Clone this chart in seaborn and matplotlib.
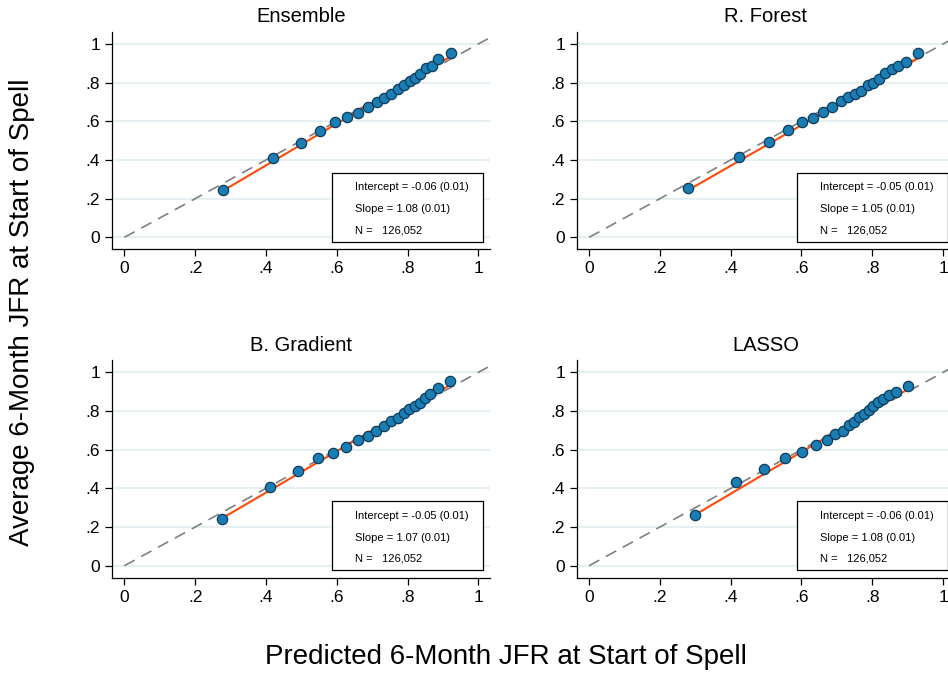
import numpy as np
import pandas as pd
import matplotlib
matplotlib.use("Agg")
import matplotlib.pyplot as plt
from matplotlib.patches import Rectangle
import seaborn as sns

# Binned calibration points (20 bins) for each prediction model
models = ["Ensemble", "R. Forest", "B. Gradient", "LASSO"]

ens_pred = [0.278, 0.419, 0.499, 0.554, 0.594, 0.629, 0.661, 0.688, 0.713, 0.733,
            0.754, 0.773, 0.790, 0.806, 0.821, 0.836, 0.852, 0.869, 0.887, 0.923]
ens_obs = [0.246, 0.409, 0.486, 0.548, 0.594, 0.620, 0.641, 0.672, 0.698, 0.722,
           0.741, 0.768, 0.790, 0.811, 0.825, 0.845, 0.876, 0.888, 0.923, 0.955]

rf_pred = [0.279, 0.424, 0.507, 0.562, 0.602, 0.634, 0.662, 0.687, 0.711, 0.731,
           0.750, 0.769, 0.787, 0.803, 0.820, 0.837, 0.855, 0.873, 0.895, 0.929]
rf_obs = [0.254, 0.418, 0.493, 0.553, 0.596, 0.617, 0.649, 0.672, 0.703, 0.725,
          0.742, 0.759, 0.787, 0.797, 0.818, 0.849, 0.871, 0.887, 0.909, 0.952]

gb_pred = [0.277, 0.411, 0.491, 0.546, 0.590, 0.627, 0.659, 0.687, 0.712, 0.733,
           0.753, 0.773, 0.789, 0.805, 0.820, 0.834, 0.850, 0.864, 0.885, 0.920]
gb_obs = [0.244, 0.409, 0.490, 0.557, 0.584, 0.613, 0.648, 0.670, 0.696, 0.725,
          0.749, 0.766, 0.790, 0.809, 0.826, 0.844, 0.866, 0.888, 0.918, 0.957]

la_pred = [0.298, 0.416, 0.494, 0.554, 0.602, 0.640, 0.672, 0.696, 0.716, 0.734,
           0.749, 0.764, 0.777, 0.790, 0.803, 0.816, 0.831, 0.846, 0.867, 0.901]
la_obs = [0.261, 0.431, 0.498, 0.558, 0.588, 0.622, 0.648, 0.682, 0.699, 0.727,
          0.741, 0.770, 0.784, 0.804, 0.826, 0.845, 0.861, 0.881, 0.897, 0.931]

# Regression of observed on predicted: (coef, se)
intercepts = [(-0.06, 0.01), (-0.05, 0.01), (-0.05, 0.01), (-0.06, 0.01)]
slopes = [(1.08, 0.01), (1.05, 0.01), (1.07, 0.01), (1.08, 0.01)]
n_obs = [126052, 126052, 126052, 126052]

tick_vals = [0, 0.2, 0.4, 0.6, 0.8, 1.0]
tick_labels = ["0", ".2", ".4", ".6", ".8", "1"]

preds = [ens_pred, rf_pred, gb_pred, la_pred]
obs = [ens_obs, rf_obs, gb_obs, la_obs]
df = pd.concat(
    [pd.DataFrame({"model": m, "pred": p, "obs": o}) for m, p, o in zip(models, preds, obs)],
    ignore_index=True,
)

sns.set_style("white")
plt.rcParams["font.family"] = ["Liberation Sans", "DejaVu Sans"]
plt.rcParams["text.color"] = "black"
plt.rcParams["axes.labelcolor"] = "black"
plt.rcParams["xtick.color"] = "black"
plt.rcParams["ytick.color"] = "black"

W, H = 948, 674
fig = plt.figure(figsize=(W / 100, H / 100), dpi=100)

ax_w = 378 / W
ax_h = 217.3 / H
positions = [
    (112 / W, 1 - 249.3 / H),
    (576.7 / W, 1 - 249.3 / H),
    (112 / W, 1 - 577.7 / H),
    (576.7 / W, 1 - 577.7 / H),
]

point_fill = "#1a7db4"
point_edge = "#0d3b5a"
fit_color = "#ff4a0a"
grid_color = "#e6eff2"

for i, model in enumerate(models):
    ax = fig.add_axes([positions[i][0], positions[i][1], ax_w, ax_h])
    sub = df[df["model"] == model]
    ax.set_xlim(-0.035, 1.033)
    ax.set_ylim(-0.062, 1.062)

    # horizontal grid lines
    for t in tick_vals:
        ax.axhline(t, color=grid_color, lw=1.6, zorder=0)

    # 45-degree reference line
    ref = np.array([0.0, 1.033])
    ax.plot(ref, ref, color="#7f7f7f", lw=1.2, dashes=(7, 4.5), zorder=1)

    # fitted regression line across the range of the bins
    a, b = intercepts[i][0], slopes[i][0]
    xs = np.array([sub["pred"].min(), sub["pred"].max()])
    ax.plot(xs, a + b * xs, color=fit_color, lw=1.5, zorder=2)

    sns.scatterplot(data=sub, x="pred", y="obs", ax=ax, s=55, color=point_fill,
                    edgecolor=point_edge, linewidth=0.9, zorder=3, legend=False)

    ax.set_xticks(tick_vals)
    ax.set_xticklabels(tick_labels)
    ax.set_yticks(tick_vals)
    ax.set_yticklabels(tick_labels)
    ax.tick_params(axis="both", length=5, width=0.9, color="black", labelsize=12.5,
                   labelcolor="black", pad=3.5, direction="out", left=True, bottom=True)
    ax.set_xlabel("")
    ax.set_ylabel("")
    for side in ["top", "right"]:
        ax.spines[side].set_visible(False)
    for side in ["left", "bottom"]:
        ax.spines[side].set_color("black")
        ax.spines[side].set_linewidth(0.9)
    ax.set_title(model, fontsize=14.5, pad=7, color="black")

    # statistics box
    rect = Rectangle((0.587, -0.022), 1.014 - 0.587, 0.355, facecolor="white",
                     edgecolor="black", lw=0.9, zorder=4)
    ax.add_patch(rect)
    lines = [
        f"Intercept = {intercepts[i][0]:.2f} ({intercepts[i][1]:.2f})",
        f"Slope = {slopes[i][0]:.2f} ({slopes[i][1]:.2f})",
        f"N =   {n_obs[i]:,}",
    ]
    for txt, ty in zip(lines, [0.259, 0.145, 0.036]):
        ax.text(0.652, ty, txt, fontsize=8, va="center", ha="left", zorder=5, color="black")

fig.text(22 / W, 1 - 312 / H, "Average 6-Month JFR at Start of Spell", rotation=90,
         fontsize=20, ha="center", va="center", color="black")
fig.text(506 / W, 1 - 657 / H, "Predicted 6-Month JFR at Start of Spell",
         fontsize=20, ha="center", va="center", color="black")

fig.savefig("out.png", dpi=100)
